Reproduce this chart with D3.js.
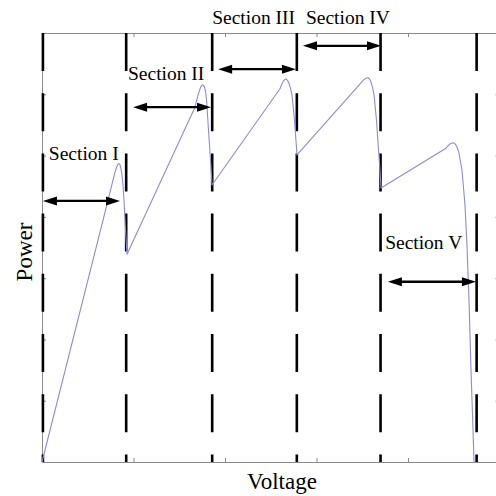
<!DOCTYPE html>
<html>
<head>
<meta charset="utf-8">
<script src="https://cdn.jsdelivr.net/npm/d3@7"></script>
<style>
  html, body { margin: 0; padding: 0; background: #fff; }
  svg { display: block; }
</style>
</head>
<body>
<svg id="chart" width="496" height="496"></svg>
<script>
// P-V curve of a partially shaded string, five local maxima
const voltage = [0, 12.68, 14.86, 15.45, 15.96, 16.3, 16.61, 16.85, 17.05, 17.28, 17.49, 17.72, 17.92, 18.25, 18.58,
  33.44, 33.9, 34.32, 34.65, 34.97, 35.25, 35.52, 35.75, 35.96, 36.39, 36.83, 37.16,
  52.02, 52.45, 52.79, 53.05, 53.33, 53.65, 53.99, 54.3, 54.64, 55.19, 55.74,
  69.29, 69.85, 70.38, 70.85, 71.26, 71.6, 71.91, 72.25, 72.57, 73.11, 73.55, 73.88, 74.10,
  88.31, 88.75, 89.18, 89.5, 89.84, 90.17, 90.49, 90.82, 91.15, 91.80, 92.46, 92.90, 93.33, 93.77, 94.21, 94.43];
const power = [0, 375, 440, 458, 473, 481, 486, 487, 485, 478, 468, 450, 428, 379, 339,
  579, 593, 604, 611, 615, 615, 612, 604, 591, 542, 493, 452,
  609, 617, 622, 624, 625, 623, 618, 610, 599, 558, 501,
  615, 620, 624, 626, 627, 625, 620, 611, 599, 558, 509, 476, 447,
  512, 516, 519, 520, 521, 520, 517, 512, 504, 476, 419, 352, 264, 150, 52, 0];

// section boundaries (dashed lines) and arrows
const boundaries = [0.2, 18.4, 37.2, 55.7, 74.0, 95.0];
const sectionNames = ['Section I', 'Section II', 'Section III', 'Section IV', 'Section V'];
const arrowFrom = [0.2, 19.9, 38.5, 57.05, 75.6];
const arrowTo = [17.05, 36.95, 55.5, 74.1, 94.85];
const arrowLevel = [426, 579, 641, 679, 294];
const labelX = [1.5, 18.8, 37.2, 57.7, 75.0];
const labelY = [493, 623, 715, 715, 348];

const xTicks = [20, 40, 60, 80];
const yTicks = [100, 200, 300, 400, 500, 600];

const svg = d3.select('#chart');
const x = d3.scaleLinear().domain([0, 100]).range([42, 499.5]);
const y = d3.scaleLinear().domain([0, 700]).range([462, 33]);
const axisCol = '#8a8a8a';
const serif = '"Liberation Serif", "Times New Roman", serif';

// frame + inward ticks
function styleAxis(g) {
  g.select('.domain').attr('stroke', axisCol).attr('stroke-width', 1);
  g.selectAll('.tick line').attr('stroke', axisCol).attr('stroke-width', 1);
  g.selectAll('.tick text').remove();
}
svg.append('g').attr('transform', `translate(0,${y(0)})`)
  .call(d3.axisBottom(x).tickValues(xTicks).tickSize(-4).tickSizeOuter(0)).call(styleAxis);
svg.append('g').attr('transform', `translate(0,${y(700)})`)
  .call(d3.axisTop(x).tickValues(xTicks).tickSize(-4).tickSizeOuter(0)).call(styleAxis);
svg.append('g').attr('transform', `translate(${x(0)},0)`)
  .call(d3.axisLeft(y).tickValues(yTicks).tickSize(-4).tickSizeOuter(0)).call(styleAxis);
svg.append('g').attr('transform', `translate(${x(100)},0)`)
  .call(d3.axisRight(y).tickValues(yTicks).tickSize(-4).tickSizeOuter(0)).call(styleAxis);

// dashed section boundaries
svg.append('g').selectAll('line').data(boundaries).join('line')
  .attr('x1', d => x(d)).attr('x2', d => x(d))
  .attr('y1', y(700)).attr('y2', y(0))
  .attr('stroke', '#000').attr('stroke-width', 2.6)
  .attr('stroke-dasharray', '38 22.2');

// P-V curve
const pts = voltage.map((v, i) => [v, power[i]]);
svg.append('path').datum(pts)
  .attr('fill', 'none').attr('stroke', '#8c8cd6').attr('stroke-width', 1.1)
  .attr('stroke-linejoin', 'round')
  .attr('d', d3.line().x(d => x(d[0])).y(d => y(d[1])));

// double-headed arrows
const arrows = svg.append('g');
sectionNames.forEach((name, i) => {
  const x1 = x(arrowFrom[i]), x2 = x(arrowTo[i]), yy = y(arrowLevel[i]);
  const L = 14, h = 4.5;
  arrows.append('line').attr('x1', x1 + L - 2).attr('x2', x2 - L + 2)
    .attr('y1', yy).attr('y2', yy).attr('stroke', '#000').attr('stroke-width', 2.4);
  arrows.append('path').attr('d', `M${x1},${yy}L${x1 + L},${yy - h}L${x1 + L},${yy + h}Z`).attr('fill', '#000');
  arrows.append('path').attr('d', `M${x2},${yy}L${x2 - L},${yy - h}L${x2 - L},${yy + h}Z`).attr('fill', '#000');
  svg.append('text').attr('x', x(labelX[i])).attr('y', y(labelY[i]))
    .attr('font-family', serif).attr('font-size', 19.5).attr('fill', '#000')
    .text(name);
});

// axis titles
svg.append('text').attr('x', 282).attr('y', 489).attr('text-anchor', 'middle')
  .attr('font-family', serif).attr('font-size', 23).attr('fill', '#000').text('Voltage');
svg.append('text').attr('transform', 'translate(32,252) rotate(-90)').attr('text-anchor', 'middle')
  .attr('font-family', serif).attr('font-size', 23).attr('fill', '#000').text('Power');
</script>
</body>
</html>
